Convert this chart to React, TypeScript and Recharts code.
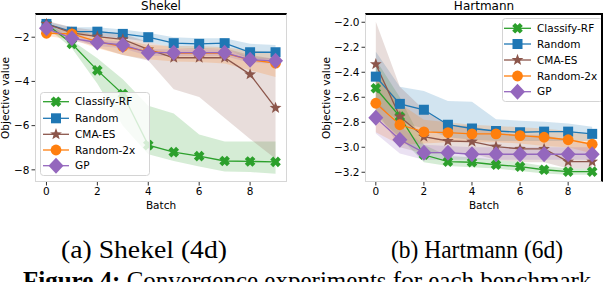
import {
  Area,
  ComposedChart,
  Legend,
  Line,
  XAxis,
  YAxis,
} from "recharts";

const batches = [0, 1, 2, 3, 4, 5, 6, 7, 8, 9];
const methodNames = ["Classify-RF", "Random", "CMA-ES", "Random-2x", "GP"];
const methodColors = ["#2ca02c", "#1f77b4", "#8c564b", "#ff7f0e", "#9467bd"];
const methodShapes = ["x", "square", "star", "circle", "diamond"];
const xTicks = [0, 2, 4, 6, 8];

// Shekel (4d)
const shekelRF = [-1.4, -2.3, -3.5, -4.57, -6.88, -7.2, -7.38, -7.6, -7.62, -7.64];
const shekelRFLo = [-1.55, -2.5, -4.1, -6.0, -7.3, -7.6, -7.85, -8.08, -8.1, -8.18];
const shekelRFHi = [-1.25, -2.15, -2.95, -3.9, -5.1, -5.45, -6.4, -6.72, -6.72, -6.72];
const shekelRandom = [-1.4, -1.75, -1.75, -1.85, -2.0, -2.27, -2.3, -2.27, -2.68, -2.68];
const shekelRandomLo = [-1.5, -1.95, -1.95, -2.05, -2.2, -2.5, -2.55, -2.5, -3.0, -3.0];
const shekelRandomHi = [-1.3, -1.55, -1.55, -1.65, -1.8, -2.0, -2.05, -2.05, -2.3, -2.35];
const shekelCMA = [-1.4, -1.8, -1.97, -2.1, -2.55, -2.93, -2.93, -2.93, -3.68, -5.2];
const shekelCMALo = [-1.75, -2.0, -2.45, -2.8, -3.05, -4.35, -4.7, -5.65, -6.6, -7.5];
const shekelCMAHi = [-1.25, -1.55, -1.7, -1.85, -2.2, -2.5, -2.5, -2.5, -2.8, -3.0];
const shekelR2 = [-1.82, -1.85, -2.2, -2.42, -2.65, -2.72, -2.72, -2.72, -3.02, -3.17];
const shekelR2Lo = [-1.95, -2.1, -2.5, -2.8, -3.0, -3.1, -3.12, -3.19, -3.49, -3.8];
const shekelR2Hi = [-1.7, -1.6, -1.95, -2.1, -2.35, -2.4, -2.4, -2.45, -2.6, -2.7];
const shekelGP = [-1.6, -2.05, -2.24, -2.35, -2.7, -2.7, -2.7, -2.7, -3.02, -3.07];
const shekelGPLo = [-1.7, -2.15, -2.4, -2.5, -2.85, -2.85, -2.85, -2.85, -3.15, -3.2];
const shekelGPHi = [-1.5, -1.95, -2.1, -2.2, -2.55, -2.55, -2.55, -2.55, -2.9, -2.95];
const shekelYTicks = [-8, -6, -4, -2];

// Hartmann (6d)
const hartRF = [-2.528, -2.755, -3.06, -3.115, -3.12, -3.14, -3.155, -3.18, -3.195, -3.195];
const hartRFLo = [-2.75, -2.92, -3.12, -3.15, -3.16, -3.17, -3.19, -3.21, -3.22, -3.22];
const hartRFHi = [-2.3, -2.6, -2.98, -3.07, -3.08, -3.1, -3.12, -3.15, -3.17, -3.17];
const hartRandom = [-2.435, -2.653, -2.7, -2.82, -2.85, -2.87, -2.88, -2.875, -2.875, -2.893];
const hartRandomLo = [-2.65, -2.8, -2.85, -2.92, -2.94, -2.95, -2.95, -2.95, -2.95, -2.95];
const hartRandomHi = [-2.235, -2.515, -2.55, -2.63, -2.635, -2.776, -2.787, -2.795, -2.81, -2.835];
const hartCMA = [-2.336, -2.755, -2.915, -2.95, -2.955, -2.995, -3.013, -3.013, -3.115, -3.115];
const hartCMALo = [-2.7, -3.0, -3.05, -3.05, -3.05, -3.1, -3.12, -3.12, -3.17, -3.17];
const hartCMAHi = [-1.995, -2.515, -2.7, -2.82, -2.83, -2.88, -2.9, -2.9, -2.95, -2.97];
const hartR2 = [-2.648, -2.82, -2.877, -2.883, -2.893, -2.893, -2.907, -2.92, -2.94, -2.976];
const hartR2Lo = [-2.88, -2.98, -2.97, -2.96, -2.96, -2.96, -2.97, -2.99, -3.0, -3.05];
const hartR2Hi = [-2.4, -2.65, -2.78, -2.8, -2.82, -2.83, -2.84, -2.85, -2.87, -2.9];
const hartGP = [-2.763, -2.94, -3.043, -3.043, -3.056, -3.056, -3.056, -3.056, -3.056, -3.056];
const hartGPLo = [-2.89, -3.05, -3.1, -3.1, -3.1, -3.1, -3.1, -3.1, -3.1, -3.1];
const hartGPHi = [-2.62, -2.83, -2.98, -2.99, -3.0, -3.0, -3.0, -3.0, -3.0, -3.0];
const hartYTicks = [-3.2, -3.0, -2.8, -2.6, -2.4, -2.2, -2.0];

const FONT = "'DejaVu Sans', sans-serif";

function buildRows(means: number[][], los: number[][], his: number[][]) {
  return batches.map((b, i) => {
    const row: any = { x: b };
    means.forEach((m, k) => {
      row["m" + k] = m[i];
      row["b" + k] = [los[k][i], his[k][i]];
    });
    return row;
  });
}

const shekelRows = buildRows(
  [shekelRF, shekelRandom, shekelCMA, shekelR2, shekelGP],
  [shekelRFLo, shekelRandomLo, shekelCMALo, shekelR2Lo, shekelGPLo],
  [shekelRFHi, shekelRandomHi, shekelCMAHi, shekelR2Hi, shekelGPHi]
);
const hartRows = buildRows(
  [hartRF, hartRandom, hartCMA, hartR2, hartGP],
  [hartRFLo, hartRandomLo, hartCMALo, hartR2Lo, hartGPLo],
  [hartRFHi, hartRandomHi, hartCMAHi, hartR2Hi, hartGPHi]
);

function Marker({ shape, cx, cy, color }: any) {
  if (shape === "x") {
    const a = 5.4;
    const w = 2.1;
    const pts = [
      [-w, -a], [w, -a], [w, -w], [a, -w], [a, w], [w, w],
      [w, a], [-w, a], [-w, w], [-a, w], [-a, -w], [-w, -w],
    ]
      .map(([x, y]) => `${cx + (x - y) / Math.SQRT2},${cy + (x + y) / Math.SQRT2}`)
      .join(" ");
    return <polygon points={pts} fill={color} />;
  }
  if (shape === "square") {
    return <rect x={cx - 5} y={cy - 5} width={10} height={10} fill={color} />;
  }
  if (shape === "star") {
    const pts: string[] = [];
    for (let i = 0; i < 10; i++) {
      const r = i % 2 === 0 ? 6.2 : 2.6;
      const ang = -Math.PI / 2 + (i * Math.PI) / 5;
      pts.push(`${cx + r * Math.cos(ang)},${cy + r * Math.sin(ang)}`);
    }
    return <polygon points={pts.join(" ")} fill={color} />;
  }
  if (shape === "circle") {
    return <circle cx={cx} cy={cy} r={5.4} fill={color} />;
  }
  return (
    <polygon
      points={`${cx},${cy - 8} ${cx + 7.5},${cy} ${cx},${cy + 8} ${cx - 7.5},${cy}`}
      fill={color}
    />
  );
}

function fmt(decimals: number) {
  return (v: number) => (v < 0 ? "\u2212" : "") + Math.abs(v).toFixed(decimals);
}

function LegendBox({ w, h, rowY, handle }: any) {
  return (
    <svg width={w} height={h} style={{ display: "block" }}>
      <rect x={0.5} y={0.5} width={w - 1} height={h - 1} rx={3} fill="#fff" fillOpacity={0.8} stroke="#d4d4d4" />
      {methodNames.map((name, k) => (
        <g key={name}>
          <line x1={handle[0]} x2={handle[1]} y1={rowY[k]} y2={rowY[k]} stroke={methodColors[k]} strokeWidth={1.3} />
          <Marker shape={methodShapes[k]} cx={(handle[0] + handle[1]) / 2} cy={rowY[k]} color={methodColors[k]} />
          <text x={35} y={rowY[k]} dy="0.36em" fontSize={10.5} fontFamily={FONT} fill="#000">
            {name}
          </text>
        </g>
      ))}
    </svg>
  );
}

function Panel(props: any) {
  const { left, width, yw, rows, yDomain, yTicks, decimals, title, legend, labelX, rightSpine } = props;
  const height = 215;
  const plotTop = 14;
  const plotBottom = 182;
  const plotLeft = yw;
  const plotRight = width - props.marginRight;
  return (
    <div style={{ position: "absolute", left, top: 0, width, height }}>
      <div
        style={{
          position: "absolute",
          left: plotLeft,
          width: plotRight - plotLeft,
          top: 0,
          textAlign: "center",
          fontFamily: FONT,
          fontSize: 12,
          lineHeight: "13px",
          color: "#000",
        }}
      >
        {title}
      </div>
      <ComposedChart
        width={width}
        height={height}
        data={rows}
        margin={{ top: plotTop, right: props.marginRight, left: 0, bottom: height - plotBottom - 30 }}
      >
        <XAxis
          dataKey="x"
          type="number"
          domain={[-0.45, 9.45]}
          ticks={xTicks}
          allowDataOverflow
          height={30}
          axisLine={false}
          tickSize={3.5}
          tickMargin={2}
          tickLine={{ stroke: "#333" }}
          tick={{ fontSize: 10.5, fontFamily: FONT, fill: "#000" }}
          label={{ value: "Batch", position: "insideBottom", offset: 3, fontSize: 10.5, fontFamily: FONT, fill: "#000" }}
        />
        <YAxis
          type="number"
          domain={yDomain}
          ticks={yTicks}
          allowDataOverflow
          width={yw}
          axisLine={false}
          tickSize={3.5}
          tickMargin={2}
          tickLine={{ stroke: "#333" }}
          tickFormatter={fmt(decimals)}
          tick={{ fontSize: 10.5, fontFamily: FONT, fill: "#000" }}
          label={{
            content: () => (
              <text
                x={labelX}
                y={98}
                transform={`rotate(-90 ${labelX} 98)`}
                textAnchor="middle"
                dominantBaseline="central"
                fontSize={10.5}
                fontFamily={FONT}
                fill="#000"
              >
                Objective value
              </text>
            ),
          }}
        />
        {methodNames.map((name, k) => (
          <Area
            key={"band" + k}
            dataKey={"b" + k}
            type="linear"
            stroke="none"
            fill={methodColors[k]}
            fillOpacity={0.2}
            isAnimationActive={false}
            activeDot={false}
            legendType="none"
          />
        ))}
        {methodNames.map((name, k) => (
          <Line
            key={"line" + k}
            dataKey={"m" + k}
            name={name}
            type="linear"
            stroke={methodColors[k]}
            strokeWidth={1.3}
            isAnimationActive={false}
            activeDot={false}
            dot={(p: any) => (
              <Marker key={"d" + k + "-" + p.index} shape={methodShapes[k]} cx={p.cx} cy={p.cy} color={methodColors[k]} />
            )}
          />
        ))}
        <Legend
          layout="vertical"
          align="center"
          verticalAlign="middle"
          wrapperStyle={{ left: legend.x, top: legend.y, width: legend.w, height: legend.h }}
          content={() => <LegendBox w={legend.w} h={legend.h} rowY={legend.rowY} handle={legend.handle} />}
        />
      </ComposedChart>
      <div
        style={{
          position: "absolute",
          left: plotLeft,
          top: plotTop - 1,
          width: plotRight - plotLeft,
          height: plotBottom - plotTop + 1,
          boxSizing: "border-box",
          borderLeft: "1px solid #d6d6d6",
          borderBottom: "1px solid #d6d6d6",
          borderRight: rightSpine ? "2px solid #000" : "1px solid #d6d6d6",
          borderTop: "2px solid #000",
          pointerEvents: "none",
        }}
      />
    </div>
  );
}

export default function App() {
  return (
    <div
      style={{
        position: "absolute",
        left: 0,
        top: 0,
        width: 610,
        height: 282,
        overflow: "hidden",
        background: "#fff",
      }}
    >
      <Panel
        left={0}
        width={300}
        yw={35}
        marginRight={13}
        rows={shekelRows}
        yDomain={[-8.55, -0.95]}
        yTicks={shekelYTicks}
        decimals={0}
        title="Shekel"
        labelX={4.5}
        legend={{ x: 40, y: 92, w: 110, h: 84, rowY: [9.7, 26.3, 42.3, 58, 73.7], handle: [3, 29] }}
      />
      <Panel
        left={300}
        width={310}
        yw={65}
        marginRight={7}
        rows={hartRows}
        yDomain={[-3.278, -1.934]}
        yTicks={hartYTicks}
        decimals={1}
        title="Hartmann"
        labelX={26}
        rightSpine
        legend={{ x: 202, y: 18, w: 101, h: 84, rowY: [10.3, 26, 42, 58, 73.7], handle: [2, 29] }}
      />
      <svg width={610} height={282} style={{ position: "absolute", left: 0, top: 0, pointerEvents: "none" }}>
        <text x={61} y={258} fontSize={25} fontFamily="'Liberation Serif', serif" textLength={166} lengthAdjust="spacingAndGlyphs" fill="#000">
          (a) Shekel (4d)
        </text>
        <text x={391} y={258} fontSize={25} fontFamily="'Liberation Serif', serif" textLength={172} lengthAdjust="spacingAndGlyphs" fill="#000">
          (b) Hartmann (6d)
        </text>
        <text x={23} y={289} fontSize={25} fontFamily="'Liberation Serif', serif" fill="#000">
          <tspan fontWeight="bold">Figure 4:</tspan> Convergence experiments for each benchmark
        </text>
      </svg>
    </div>
  );
}
